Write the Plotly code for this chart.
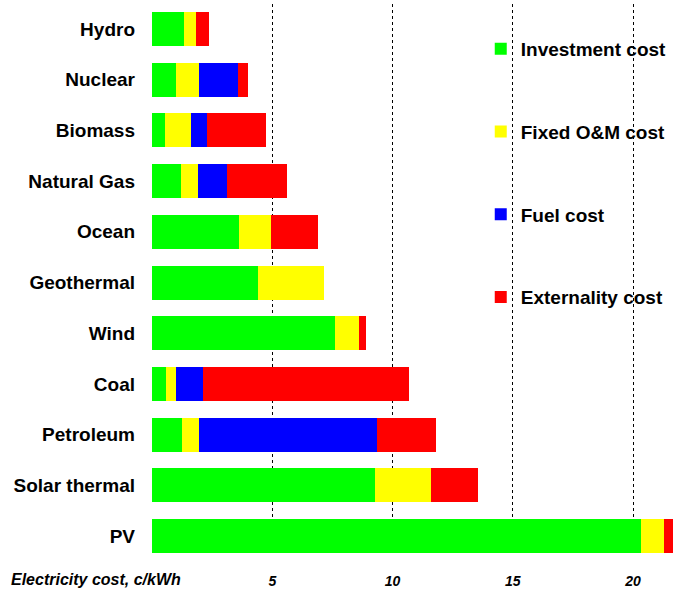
import plotly.graph_objects as go

categories = ["Hydro", "Nuclear", "Biomass", "Natural Gas", "Ocean", "Geothermal",
              "Wind", "Coal", "Petroleum", "Solar thermal", "PV"]
investment = [1.35, 1.00, 0.55, 1.20, 3.63, 4.39, 7.62, 0.59, 1.25, 9.29, 20.33]
fixed_om = [0.49, 0.95, 1.08, 0.70, 1.30, 2.76, 0.98, 0.41, 0.70, 2.30, 0.95]
fuel = [0.00, 1.61, 0.64, 1.23, 0.00, 0.00, 0.00, 1.14, 7.42, 0.00, 0.00]
externality = [0.51, 0.45, 2.45, 2.50, 1.97, 0.00, 0.28, 8.54, 2.45, 1.98, 0.45]

tick_vals = [0, 5, 10, 15, 20]
tick_text = ["", "5", "10", "15", "20"]

series = [
    ("Investment cost", investment, "#00FF00"),
    ("Fixed O&M cost", fixed_om, "#FFFF00"),
    ("Fuel cost", fuel, "#0000FF"),
    ("Externality cost", externality, "#FF0000"),
]

FONT = "Liberation Sans, Arial, sans-serif"

fig = go.Figure()
for name, vals, color in series:
    fig.add_trace(go.Bar(
        y=categories, x=vals, name=name, orientation="h",
        marker=dict(color=color, line=dict(width=0)),
        legendgroup=name, width=0.67,
    ))

fig.update_layout(
    width=673, height=590,
    barmode="stack",
    plot_bgcolor="white", paper_bgcolor="white",
    margin=dict(l=152, r=0, t=4, b=34, autoexpand=False),
    font=dict(family=FONT, color="black"),
    showlegend=True,
    legend=dict(
        x=0.631, xanchor="left", y=0.953, yanchor="top",
        traceorder="grouped", tracegroupgap=55,
        bgcolor="rgba(0,0,0,0)",
        font=dict(family=FONT, size=19, weight="bold", color="black"),
        itemclick=False,
    ),
    xaxis=dict(
        range=[0, 21.66], automargin=False,
        tickvals=tick_vals, ticktext=tick_text,
        showgrid=True, gridcolor="black", gridwidth=1, griddash="3px,3px",
        zeroline=False, showline=False, ticks="",
        tickfont=dict(family=FONT, size=14, weight="bold", style="italic", color="black"),
        ticklabelstandoff=15,
        fixedrange=True,
    ),
    yaxis=dict(
        categoryorder="array", categoryarray=categories,
        range=[10.394, -0.493], automargin=False,
        showgrid=False, zeroline=False, showline=False, ticks="",
        tickfont=dict(family=FONT, size=19, weight="bold", color="black"),
        ticklabelstandoff=16,
        fixedrange=True,
    ),
    shapes=[dict(
        type="rect", xref="x", yref="paper",
        x0=14.0, x1=22.0, y0=0.391, y1=1.01,
        fillcolor="white", line=dict(width=0), layer="between",
    )],
    annotations=[dict(
        text="Electricity cost, c/kWh", xref="paper", yref="paper",
        x=-0.274, y=-0.043, xanchor="left", yanchor="middle", showarrow=False,
        font=dict(family=FONT, size=16, weight="bold", style="italic", color="black"),
    )],
)

fig.write_html("out.html", config={"displayModeBar": False})

with open("out.html", "r", encoding="utf-8") as f:
    html = f.read()
html = html.replace("<head>", "<head><style>html,body{margin:0;padding:0;overflow:hidden;}</style>", 1)
with open("out.html", "w", encoding="utf-8") as f:
    f.write(html)
